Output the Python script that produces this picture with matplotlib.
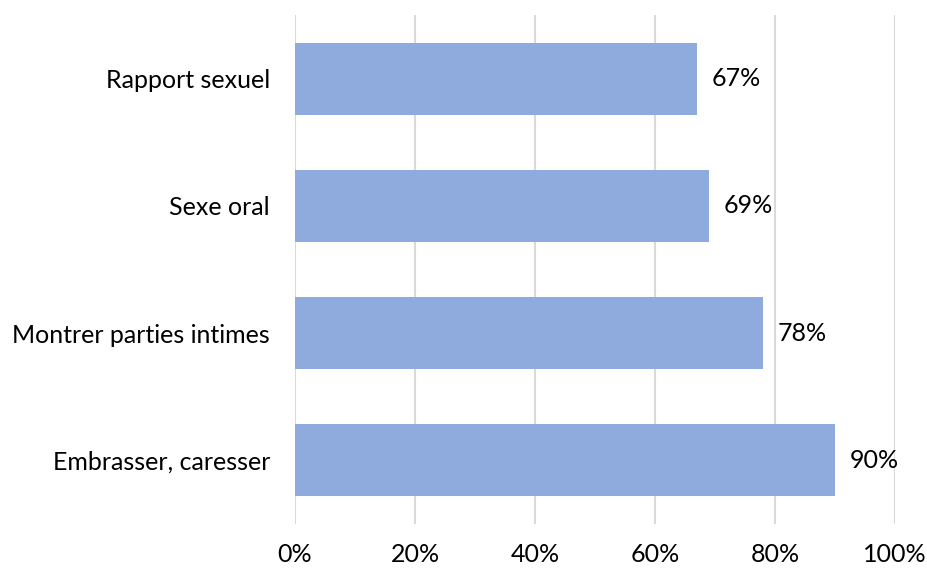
import matplotlib.pyplot as plt
from matplotlib.ticker import FuncFormatter

plt.rcParams['font.family'] = ['Lato', 'DejaVu Sans']

categories = ['Embrasser, caresser', 'Montrer parties intimes', 'Sexe oral', 'Rapport sexuel']
values = [0.90, 0.78, 0.69, 0.67]
value_labels = ['90%', '78%', '69%', '67%']
x_ticks = [0, 0.2, 0.4, 0.6, 0.8, 1.0]

fig = plt.figure(figsize=(9.28, 5.70), dpi=100)
ax = fig.add_axes([295 / 928, 1 - 524 / 570, 600 / 928, 509 / 570])

ax.barh(range(len(categories)), values, height=0.566, color='#8FAADC', zorder=2)
for i, (v, lab) in enumerate(zip(values, value_labels)):
    ax.text(v + 0.025, i, lab, va='center', ha='left', fontsize=18, color='#000000')

ax.set_xlim(0, 1.0)
ax.set_ylim(-0.5, 3.5)
ax.set_xticks(x_ticks)
ax.xaxis.set_major_formatter(FuncFormatter(lambda x, p: f'{x * 100:.0f}%'))
ax.set_yticks(range(len(categories)))
ax.set_yticklabels(categories)
ax.tick_params(axis='both', length=0, labelsize=18, colors='#000000')
ax.tick_params(axis='x', pad=14)
ax.tick_params(axis='y', pad=18)
ax.grid(axis='x', color='#D9D9D9', linewidth=1.5, zorder=0)
for s in ax.spines.values():
    s.set_visible(False)

fig.savefig('out.png', dpi=100)
